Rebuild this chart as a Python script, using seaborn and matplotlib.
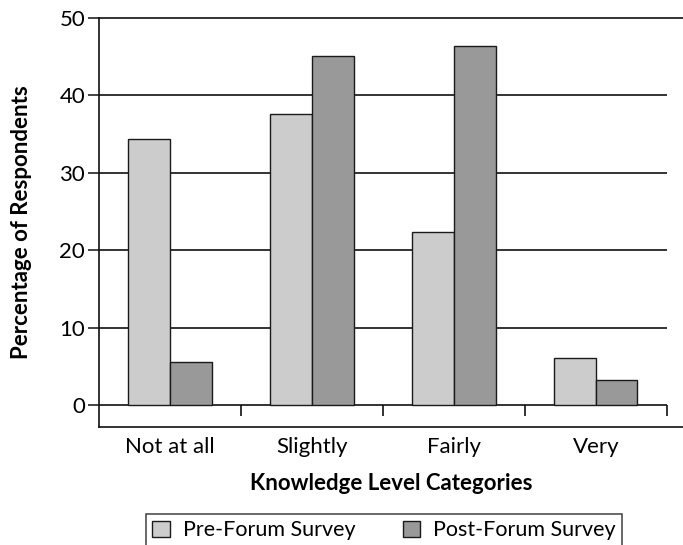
import pandas as pd
import numpy as np
import matplotlib
matplotlib.use('Agg')
import matplotlib.pyplot as plt
import seaborn as sns

# Data
categories = ['Not at all', 'Slightly', 'Fairly', 'Very']
pre_forum = [34.4, 37.6, 22.4, 6.1]
post_forum = [5.6, 45.1, 46.4, 3.2]
series_names = ['Pre-Forum Survey', 'Post-Forum Survey']
y_ticks = [0, 10, 20, 30, 40, 50]

df = pd.DataFrame({
    'Category': categories * 2,
    'Survey': [series_names[0]] * 4 + [series_names[1]] * 4,
    'Percent': pre_forum + post_forum,
})

sns.set_style('white')
plt.rcParams['font.family'] = ['Lato', 'DejaVu Sans']
plt.rcParams['text.color'] = 'black'
plt.rcParams['xtick.color'] = 'black'
plt.rcParams['ytick.color'] = 'black'
plt.rcParams['axes.labelcolor'] = 'black'

fig = plt.figure(figsize=(6.83, 5.45), dpi=100)
ax = fig.add_axes([0.145, 0.2165, 0.855, 0.7505])

sns.barplot(data=df, x='Category', y='Percent', hue='Survey', order=categories,
            hue_order=series_names, palette=['#cccccc', '#999999'],
            width=0.585, gap=0, edgecolor='#1a1a1a', linewidth=1.0,
            saturation=1, legend=False, ax=ax, zorder=3)

# gridlines (incl. zero line) stop at the last category boundary
ax.hlines(y_ticks[:-1], -0.5, 3.5, colors='#111111', lw=1.2, zorder=1)
# category separators below the zero line
ax.vlines([0.5, 1.5, 2.5, 3.5], -1.4, 0, colors='#111111', lw=1.2, zorder=1)

ax.set_xlim(-0.5, 3.613)
ax.set_ylim(-2.84, 50)
ax.set_yticks(y_ticks)
ax.tick_params(axis='y', direction='out', length=8, width=1.1, color='#111111',
               labelsize=16, pad=2, left=True)
ax.tick_params(axis='x', length=0, labelsize=16, pad=7)

for s in ['top', 'bottom', 'left']:
    ax.spines[s].set_visible(True)
    ax.spines[s].set_color('#111111')
    ax.spines[s].set_linewidth(1.2)
ax.spines['right'].set_visible(False)

ax.set_xlabel('Knowledge Level Categories', fontsize=16, fontweight='bold', labelpad=12)
ax.set_ylabel('Percentage of Respondents', fontsize=16, fontweight='bold')
ax.yaxis.set_label_coords(-0.115, 0.5)

handles = [plt.Rectangle((0, 0), 1, 1, facecolor=c, edgecolor='#1a1a1a', lw=1.0)
           for c in ['#cccccc', '#999999']]
leg = fig.legend(handles, series_names, loc='upper center', bbox_to_anchor=(0.562, 0.057),
                 ncol=2, frameon=True, fancybox=False, fontsize=15.5, columnspacing=2.2,
                 handlelength=0.8, handleheight=0.8, handletextpad=0.6, borderpad=0.3,
                 borderaxespad=0)
leg.get_frame().set_edgecolor('#111111')
leg.get_frame().set_linewidth(1.1)

plt.savefig('out.png', dpi=100)
plt.close()
